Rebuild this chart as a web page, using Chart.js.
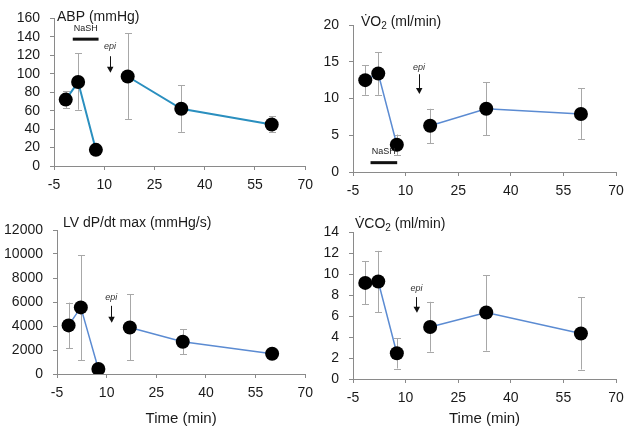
<!DOCTYPE html>
<html>
<head>
<meta charset="utf-8">
<script src="https://cdn.jsdelivr.net/npm/chart.js@4"></script>
<style>
  html, body { margin: 0; padding: 0; background: #fff; }
  #wrap { position: relative; width: 631px; height: 434px; overflow: hidden; }
  canvas { position: absolute; }
</style>
</head>
<body>
<div id="wrap">
  <canvas id="abp" width="320" height="200" style="left:0px;top:0px;"></canvas>
  <canvas id="vo2" width="311" height="210" style="left:320px;top:0px;"></canvas>
  <canvas id="lv" width="320" height="234" style="left:0px;top:200px;"></canvas>
  <canvas id="vco2" width="311" height="234" style="left:320px;top:200px;"></canvas>
</div>
<script>
// tiempos de muestreo (min)
const timeMin = [-1.5, 2.2, 7.5, 17, 33, 60];
const xTicks = [-5, 10, 25, 40, 55, 70];

// ABP (mmHg)
const abpMean = [72, 91, 17.5, 97, 62, 45];
const abpLow  = [62.5, 61, null, 51, 37, 37];
const abpHigh = [81, 122, null, 144, 87.5, 54];
const abpTicks = [0, 20, 40, 60, 80, 100, 120, 140, 160];

// VO2 (ml/min)
const vo2Mean = [12.5, 13.4, 3.7, 6.3, 8.6, 7.9];
const vo2Low  = [10.5, 10.5, 2.3, 3.9, 5.0, 4.5];
const vo2High = [14.5, 16.3, 5.1, 8.6, 12.2, 11.4];
const vo2Ticks = [0, 5, 10, 15, 20];

// LV dP/dt max (mmHg/s)
const lvMean = [4050, 5550, 420, 3880, 2690, 1690];
const lvLow  = [2150, 1150, null, 1150, 1650, null];
const lvHigh = [5950, 9900, null, 6650, 3750, null];
const lvTicks = [0, 2000, 4000, 6000, 8000, 10000, 12000];

// VCO2 (ml/min)
const vco2Mean = [9.15, 9.28, 2.45, 4.95, 6.33, 4.33];
const vco2Low  = [7.1, 6.35, 1.0, 2.6, 2.7, 0.9];
const vco2High = [11.2, 12.2, 3.9, 7.35, 9.9, 7.8];
const vco2Ticks = [0, 2, 4, 6, 8, 10, 12, 14];

const FONT = '"Liberation Sans", Arial, sans-serif';

function crearPanel(id, cfg) {
    const ctxCanvas = document.getElementById(id);
    const puntos = timeMin.map((t, i) => ({ x: t, y: cfg.mean[i] }));

    const extras = {
        id: 'extras_' + id,
        beforeDatasetsDraw(chart) {
            const { ctx, scales: { x, y } } = chart;
            ctx.save();
            ctx.strokeStyle = '#a8a8a8';
            ctx.lineWidth = 1;
            timeMin.forEach((t, i) => {
                if (cfg.low[i] == null || cfg.high[i] == null) return;
                const px = Math.round(x.getPixelForValue(t)) + 0.5;
                const yl = y.getPixelForValue(cfg.low[i]);
                const yh = y.getPixelForValue(cfg.high[i]);
                ctx.beginPath();
                ctx.moveTo(px, yl); ctx.lineTo(px, yh);
                ctx.moveTo(px - 3.5, Math.round(yl) + 0.5); ctx.lineTo(px + 3.5, Math.round(yl) + 0.5);
                ctx.moveTo(px - 3.5, Math.round(yh) + 0.5); ctx.lineTo(px + 3.5, Math.round(yh) + 0.5);
                ctx.stroke();
            });
            ctx.restore();
        },
        afterDraw(chart) {
            const { ctx, chartArea, scales: { x, y } } = chart;
            ctx.save();
            // titulo dentro del grafico
            ctx.fillStyle = '#1a1a1a';
            ctx.textBaseline = 'alphabetic';
            let tx = chartArea.left + cfg.titleDx;
            const ty = chartArea.top + cfg.titleDy;
            cfg.title.forEach(parte => {
                ctx.font = (parte.sub ? '10px ' : '14px ') + FONT;
                ctx.fillText(parte.t, tx, ty + (parte.sub ? 3 : 0));
                tx += ctx.measureText(parte.t).width;
            });
            // flecha epi
            const ex = x.getPixelForValue(cfg.epi.x);
            const eTxt = y.getPixelForValue(cfg.epi.text);
            const e0 = y.getPixelForValue(cfg.epi.from);
            const e1 = y.getPixelForValue(cfg.epi.to);
            ctx.font = 'italic 9px ' + FONT;
            ctx.textAlign = 'center';
            ctx.fillStyle = '#333';
            ctx.fillText('epi', ex, eTxt);
            ctx.strokeStyle = '#111';
            ctx.lineWidth = 1;
            ctx.beginPath();
            ctx.moveTo(Math.round(ex) + 0.5, e0);
            ctx.lineTo(Math.round(ex) + 0.5, e1 - 5);
            ctx.stroke();
            ctx.fillStyle = '#111';
            ctx.beginPath();
            ctx.moveTo(ex - 3, e1 - 6);
            ctx.lineTo(ex + 3.5, e1 - 6);
            ctx.lineTo(ex + 0.5, e1);
            ctx.closePath();
            ctx.fill();
            // barra NaSH
            if (cfg.nash) {
                const n0 = x.getPixelForValue(cfg.nash.from);
                const n1 = x.getPixelForValue(cfg.nash.to);
                const ny = y.getPixelForValue(cfg.nash.y);
                ctx.fillStyle = '#111';
                ctx.fillRect(n0, ny - 1.5, n1 - n0, 3);
                ctx.font = '9px ' + FONT;
                ctx.fillStyle = '#222';
                ctx.fillText('NaSH', (n0 + n1) / 2, y.getPixelForValue(cfg.nash.text));
            }
            ctx.restore();
        }
    };

    new Chart(ctxCanvas, {
        type: 'scatter',
        data: {
            datasets: [{
                data: puntos,
                showLine: true,
                borderColor: cfg.color,
                borderWidth: cfg.lineWidth,
                segment: {
                    borderColor: s => s.p0DataIndex === 2 ? 'rgba(0,0,0,0)' : cfg.color
                },
                pointRadius: 7,
                pointHoverRadius: 7,
                pointBackgroundColor: '#000',
                pointBorderColor: '#000',
                pointBorderWidth: 0
            }]
        },
        options: {
            responsive: false,
            animation: false,
            events: [],
            layout: {
                autoPadding: false,
                padding: { left: 0, top: cfg.padTop, right: cfg.padRight, bottom: 0 }
            },
            plugins: { legend: { display: false }, tooltip: { enabled: false } },
            scales: {
                x: {
                    type: 'linear',
                    min: -5,
                    max: 70,
                    afterBuildTicks: s => { s.ticks = xTicks.map(v => ({ value: v })); },
                    afterFit: s => { s.height = cfg.xHeight; },
                    border: { color: '#8a8a8a', width: 1 },
                    grid: { drawOnChartArea: false, drawTicks: true, tickLength: 4, color: '#8a8a8a' },
                    ticks: {
                        color: '#1a1a1a', font: { family: FONT, size: 14 }, padding: 7,
                        maxRotation: 0, autoSkip: false, callback: v => String(v)
                    },
                    title: {
                        display: !!cfg.xTitle,
                        text: cfg.xTitle || '',
                        color: '#1a1a1a',
                        font: { family: FONT, size: 15 },
                        padding: { top: 0, bottom: cfg.xTitlePad || 0 }
                    }
                },
                y: {
                    min: cfg.yTicks[0],
                    max: cfg.yTicks[cfg.yTicks.length - 1],
                    afterBuildTicks: s => { s.ticks = cfg.yTicks.map(v => ({ value: v })); },
                    afterFit: s => { s.width = cfg.yWidth; },
                    border: { color: '#8a8a8a', width: 1 },
                    grid: { drawOnChartArea: false, drawTicks: true, tickLength: 4, color: '#8a8a8a' },
                    ticks: {
                        color: '#1a1a1a', font: { family: FONT, size: 14 }, padding: 10,
                        autoSkip: false, callback: v => String(v)
                    }
                }
            }
        },
        plugins: [extras]
    });
}

crearPanel('abp', {
    mean: abpMean, low: abpLow, high: abpHigh, yTicks: abpTicks,
    color: '#2a8fbf', lineWidth: 2,
    yWidth: 54, padTop: 17, padRight: 11, xHeight: 34,
    title: [{ t: 'ABP (mmHg)' }], titleDx: 3, titleDy: 3,
    epi: { x: 11.7, text: 127, from: 119, to: 101 },
    nash: { from: 0.6, to: 8.3, y: 137.5, text: 146 }
});

crearPanel('vo2', {
    mean: vo2Mean, low: vo2Low, high: vo2High, yTicks: vo2Ticks,
    color: '#5b8bd2', lineWidth: 1.5,
    yWidth: 33, padTop: 25, padRight: 15, xHeight: 38,
    title: [{ t: 'V\u0307O' }, { t: '2', sub: true }, { t: ' (ml/min)' }], titleDx: 8, titleDy: 1,
    epi: { x: 13.8, text: 13.9, from: 13.3, to: 10.6 },
    nash: { from: 0, to: 7.6, y: 1.27, text: 2.45 }
});

crearPanel('lv', {
    mean: lvMean, low: lvLow, high: lvHigh, yTicks: lvTicks,
    color: '#5b8bd2', lineWidth: 1.5,
    yWidth: 57, padTop: 30, padRight: 14, xHeight: 60,
    xTitle: 'Time (min)', xTitlePad: 6,
    title: [{ t: 'LV dP/dt max (mmHg/s)' }], titleDx: 6, titleDy: -3,
    epi: { x: 11.4, text: 6180, from: 5680, to: 4270 }
});

crearPanel('vco2', {
    mean: vco2Mean, low: vco2Low, high: vco2High, yTicks: vco2Ticks,
    color: '#5b8bd2', lineWidth: 1.5,
    yWidth: 33, padTop: 32, padRight: 15, xHeight: 55,
    xTitle: 'Time (min)', xTitlePad: 6,
    title: [{ t: 'V\u0307CO' }, { t: '2', sub: true }, { t: ' (ml/min)' }], titleDx: 2, titleDy: -4,
    epi: { x: 13.1, text: 8.4, from: 7.8, to: 6.3 }
});
</script>
</body>
</html>
